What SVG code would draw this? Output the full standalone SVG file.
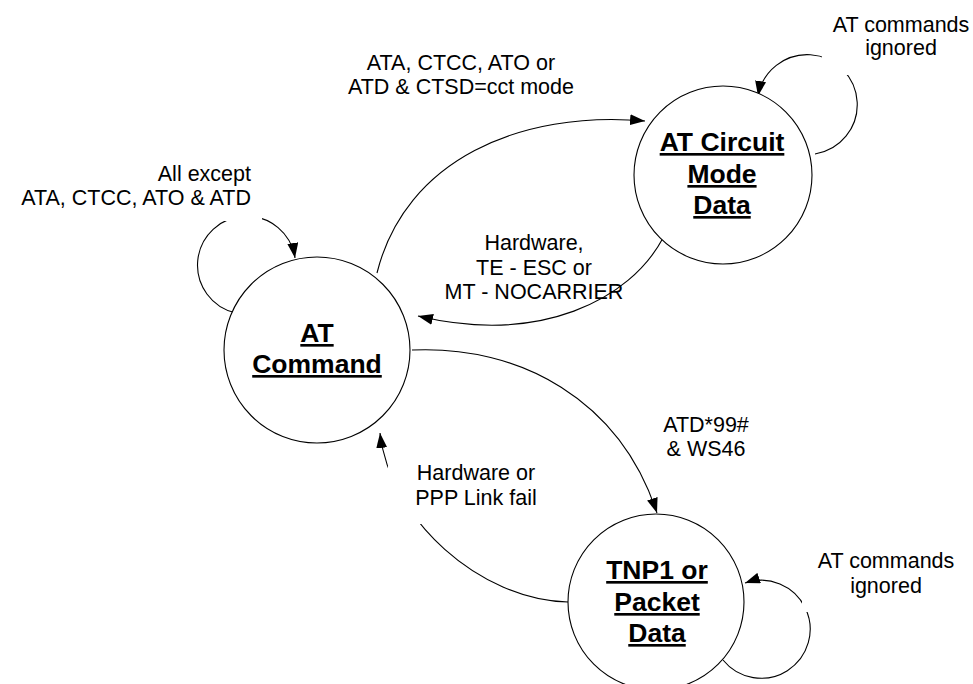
<svg xmlns="http://www.w3.org/2000/svg" width="973" height="684" viewBox="0 0 973 684">
<style>
.state{fill:#fff;stroke:#000;stroke-width:1.1}
.conn{fill:none;stroke:#000;stroke-width:1.1}
.title{font-family:"Liberation Sans",Arial,sans-serif;font-weight:bold;font-size:26.5px;text-decoration:underline;text-anchor:middle;fill:#000}
.lbl{font-family:"Liberation Sans",Arial,sans-serif;font-size:21.5px;text-anchor:middle;fill:#000}
.lbl.end{text-anchor:end}
.mask{fill:#fff;stroke:none}
</style>
<defs>
<marker id="ah" viewBox="0 0 15 11" refX="15" refY="5.5" markerWidth="15" markerHeight="11" markerUnits="userSpaceOnUse" orient="auto">
<path d="M0,0 L15,5.5 L0,11 Z" fill="#000"/>
</marker>
</defs>
<rect width="973" height="684" fill="#fff"/>
<g id="connectors">
<path class="conn" d="M377,273 C405,160 520,110 645,121" marker-end="url(#ah)"/>
<path class="conn" d="M663,238 C630,300 540,345 418,316" marker-end="url(#ah)"/>
<path class="conn" d="M412,350 C520,345 620,400 657,513" marker-end="url(#ah)"/>
<path class="conn" d="M568,602 C480,600 390,520 380,433" marker-end="url(#ah)"/>
<path class="conn" d="M236,313 A49,49 0 1 1 295,258" marker-end="url(#ah)"/>
<path class="conn" d="M815,154 A50,50 0 1 0 758,96" marker-end="url(#ah)"/>
<path class="conn" d="M723,660 A49,49 0 1 0 745,583" marker-end="url(#ah)"/>
</g>
<g id="node-at-command">
<circle class="state" cx="317" cy="350" r="93"/>
<text class="title" x="317" y="342">AT</text>
<text class="title" x="317" y="373">Command</text>
</g>
<g id="node-circuit">
<circle class="state" cx="723" cy="175" r="89"/>
<text class="title" x="722" y="151">AT Circuit</text>
<text class="title" x="722" y="183">Mode</text>
<text class="title" x="722" y="214">Data</text>
</g>
<g id="node-tnp1">
<circle class="state" cx="656" cy="602" r="88"/>
<text class="title" x="657" y="579">TNP1 or</text>
<text class="title" x="657" y="611">Packet</text>
<text class="title" x="657" y="642">Data</text>
</g>
<g id="label-self-command">
<rect class="mask" x="4" y="160" width="258" height="61"/>
<text class="lbl end" x="251" y="181">All except</text>
<text class="lbl end" x="251" y="205">ATA, CTCC, ATO &amp; ATD</text>
</g>
<g id="label-to-circuit">
<text class="lbl" x="461" y="70">ATA, CTCC, ATO or</text>
<text class="lbl" x="461" y="94">ATD &amp; CTSD=cct mode</text>
</g>
<g id="label-from-circuit">
<text class="lbl" x="534" y="250">Hardware,</text>
<text class="lbl" x="534" y="275">TE - ESC or</text>
<text class="lbl" x="534" y="299">MT - NOCARRIER</text>
</g>
<g id="label-to-tnp1">
<text class="lbl" x="706" y="432">ATD*99#</text>
<text class="lbl" x="706" y="456">&amp; WS46</text>
</g>
<g id="label-from-tnp1">
<rect class="mask" x="388" y="462" width="152" height="62"/>
<text class="lbl" x="476" y="480">Hardware or</text>
<text class="lbl" x="476" y="505">PPP Link fail</text>
</g>
<g id="label-self-circuit">
<rect class="mask" x="822" y="8" width="151" height="67"/>
<text class="lbl" x="901" y="32">AT commands</text>
<text class="lbl" x="901" y="55">ignored</text>
</g>
<g id="label-self-tnp1">
<rect class="mask" x="802" y="548" width="171" height="64"/>
<text class="lbl" x="886" y="568">AT commands</text>
<text class="lbl" x="886" y="593">ignored</text>
</g>
</svg>
